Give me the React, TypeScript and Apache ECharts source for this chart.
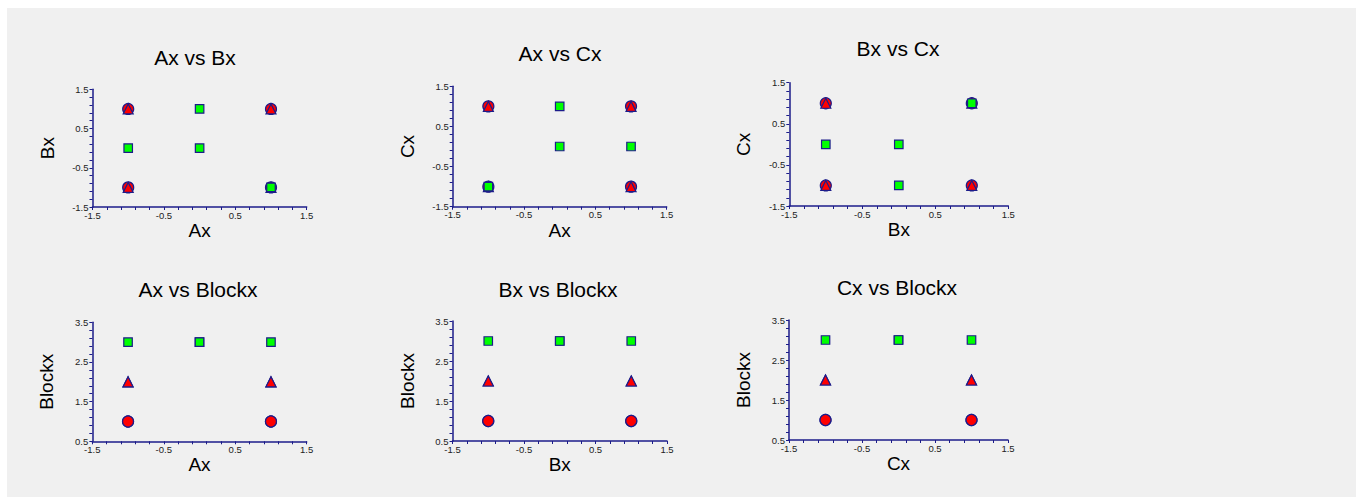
import React, { useEffect, useRef } from 'react';
import * as echarts from 'echarts';

// Design runs (factor levels and block of each run)
const Ax = [-1, 1, 1, -1, 1, -1, 1, -1, -1, 1, 0, 0];
const Bx = [-1, 1, -1, 1, 1, -1, -1, 1, 0, -1, 1, 0];
const Cx = [-1, -1, 1, 1, 1, 1, -1, -1, -1, 0, 1, 0];
const Blockx = [1, 1, 1, 1, 2, 2, 2, 2, 3, 3, 3, 3];

const blocks = [1, 2, 3];

// Plots: x variable vs y variable
const plotTitles = ['Ax vs Bx', 'Ax vs Cx', 'Bx vs Cx', 'Ax vs Blockx', 'Bx vs Blockx', 'Cx vs Blockx'];
const plotX = ['Ax', 'Ax', 'Bx', 'Ax', 'Bx', 'Cx'];
const plotY = ['Bx', 'Cx', 'Cx', 'Blockx', 'Blockx', 'Blockx'];

// Axis tick labels and tick marks
const factorLabels = [-1.5, -0.5, 0.5, 1.5];
const factorTicks = [-1.5, -1.3, -1.1, -0.9, -0.7, -0.5, -0.3, -0.1, 0.1, 0.3, 0.5, 0.7, 0.9, 1.1, 1.3, 1.5];
const blockLabels = [0.5, 1.5, 2.5, 3.5];
const blockTicks = [0.5, 0.7, 0.9, 1.1, 1.3, 1.5, 1.7, 1.9, 2.1, 2.3, 2.5, 2.7, 2.9, 3.1, 3.3, 3.5];

const columns: Record<string, number[]> = { Ax, Bx, Cx, Blockx };

// Layout (container coordinates)
const grids = [
  { left: 85.5, top: 81.3, width: 214.2, height: 117.7 },
  { left: 445.7, top: 78.3, width: 214, height: 120.4 },
  { left: 782.3, top: 74.7, width: 219, height: 123.3 },
  { left: 85.3, top: 314.3, width: 214.4, height: 119 },
  { left: 445.5, top: 313, width: 214.5, height: 120 },
  { left: 782, top: 312, width: 219, height: 120 },
];
const titlePos = [
  { left: 188, top: 38 },
  { left: 553, top: 34 },
  { left: 891, top: 29 },
  { left: 191, top: 270 },
  { left: 551, top: 270 },
  { left: 890, top: 268 },
];

const FONT = '"Liberation Sans", Arial, sans-serif';
const NAVY = '#1c1c8a';

const markerStyle = [
  { symbol: 'circle', symbolSize: 11, color: '#ff0000' },
  { symbol: 'triangle', symbolSize: 10, color: '#ff0000' },
  { symbol: 'rect', symbolSize: 8.5, color: '#00ff00' },
];

function makeAxis(name: string, isY: boolean, idx: number) {
  const isBlock = name === 'Blockx';
  const labels = isBlock ? blockLabels : factorLabels;
  const ticks = isBlock ? blockTicks : factorTicks;
  return {
    type: 'value',
    gridIndex: idx,
    min: labels[0],
    max: labels[labels.length - 1],
    name,
    nameLocation: 'middle',
    nameGap: isY ? 36 : 14,
    nameTextStyle: { fontSize: 19, color: '#000', fontFamily: FONT },
    axisLine: { show: true, onZero: false, lineStyle: { color: NAVY, width: 1.5 } },
    axisTick: { show: true, length: 3, customValues: ticks, lineStyle: { color: NAVY, width: 1 } },
    axisLabel: {
      customValues: labels,
      fontSize: 9.5,
      color: '#222',
      fontFamily: FONT,
      margin: isY ? 4 : 3,
    },
    splitLine: { show: false },
  };
}

export default function App() {
  const ref = useRef<HTMLDivElement>(null);
  useEffect(() => {
    const chart = echarts.init(ref.current!, null, { renderer: 'svg' });
    const series: any[] = [];
    plotTitles.forEach((_, p) => {
      const xs = columns[plotX[p]];
      const ys = columns[plotY[p]];
      blocks.forEach((b, bi) => {
        const data: number[][] = [];
        for (let i = 0; i < Blockx.length; i++) {
          if (Blockx[i] === b) data.push([xs[i], ys[i]]);
        }
        const m = markerStyle[bi];
        series.push({
          type: 'scatter',
          name: 'Block ' + b,
          xAxisIndex: p,
          yAxisIndex: p,
          data,
          symbol: m.symbol,
          symbolSize: m.symbolSize,
          itemStyle: { color: m.color, borderColor: NAVY, borderWidth: 1.2, opacity: 1 },
          emphasis: { disabled: true },
        });
      });
    });
    const option: any = {
      animation: false,
      backgroundColor: '#f0f0f0',
      title: plotTitles.map((t, p) => ({
        text: t,
        left: titlePos[p].left,
        top: titlePos[p].top,
        textAlign: 'center',
        padding: 0,
        textStyle: { fontSize: 21, fontWeight: 'normal', color: '#000', fontFamily: FONT, lineHeight: 22 },
      })),
      grid: grids.map((g) => ({ ...g, containLabel: false })),
      xAxis: plotX.map((n, p) => makeAxis(n, false, p)),
      yAxis: plotY.map((n, p) => makeAxis(n, true, p)),
      series,
    };
    chart.setOption(option);
    return () => chart.dispose();
  }, []);
  return (
    <div
      ref={ref}
      style={{ position: 'absolute', left: 7, top: 8, width: 1349, height: 489 }}
    />
  );
}
